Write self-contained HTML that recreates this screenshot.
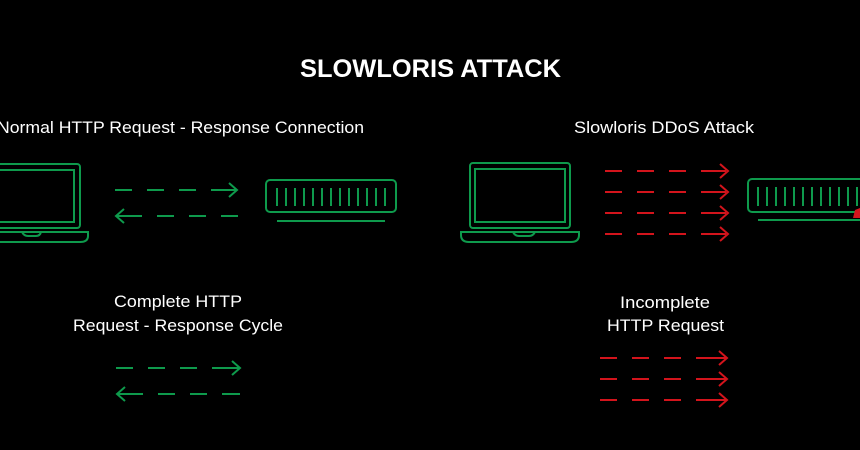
<!DOCTYPE html>
<html><head><meta charset="utf-8"><style>
html,body{margin:0;padding:0;background:#000;}
svg{display:block;}
text{font-family:"Liberation Sans",sans-serif;fill:#fff;}
</style></head><body>
<svg width="860" height="450" viewBox="0 0 860 450" xmlns="http://www.w3.org/2000/svg">
<rect width="860" height="450" fill="#000"/>
<text x="300" y="77" font-size="25" font-weight="bold" textLength="261" lengthAdjust="spacingAndGlyphs">SLOWLORIS ATTACK</text>
<text x="-3" y="133" font-size="17" textLength="367" lengthAdjust="spacingAndGlyphs">Normal HTTP Request - Response Connection</text>
<text x="574" y="133" font-size="17" textLength="180" lengthAdjust="spacingAndGlyphs">Slowloris DDoS Attack</text>
<text x="114" y="307" font-size="17" textLength="128" lengthAdjust="spacingAndGlyphs">Complete HTTP</text>
<text x="73" y="331" font-size="17" textLength="210" lengthAdjust="spacingAndGlyphs">Request - Response Cycle</text>
<text x="620" y="308" font-size="17" textLength="90" lengthAdjust="spacingAndGlyphs">Incomplete</text>
<text x="607" y="331" font-size="17" textLength="117" lengthAdjust="spacingAndGlyphs">HTTP Request</text>

<g fill="none" stroke="#0e9a4c" stroke-width="2">
  <!-- left laptop -->
  <rect x="-10" y="164" width="90" height="64" rx="3"/>
  <rect x="-6" y="170" width="80" height="52"/>
  <path d="M-10 232 H88 V236 Q88 242 80 242 H-10"/>
  <path d="M22 232 Q24 236 28 236 H36 Q40 236 41 232"/>
  <!-- right laptop -->
  <rect x="470" y="163" width="100" height="65" rx="3"/>
  <rect x="475" y="169" width="90" height="53"/>
  <path d="M461 232 H579 V235 Q579 242 571 242 H469 Q461 242 461 235 Z"/>
  <path d="M513 232 Q515 236 519 236 H529 Q533 236 535 232"/>
  <!-- left server -->
  <rect x="266" y="180" width="130" height="32" rx="4"/>
  <line x1="277" y1="221" x2="385" y2="221"/>
  <path d="M277 188V206M286 188V206M295 188V206M304 188V206M313 188V206M322 188V206M331 188V206M340 188V206M349 188V206M358 188V206M367 188V206M376 188V206M385 188V206"/>
  <!-- right server -->
  <rect x="748" y="179" width="130" height="33" rx="4"/>
  <line x1="758" y1="220" x2="860" y2="220"/>
  <path d="M758 187V206M767 187V206M776 187V206M785 187V206M794 187V206M803 187V206M812 187V206M821 187V206M830 187V206M839 187V206M848 187V206M857 187V206"/>
  <!-- green arrows top -->
  <path d="M115 190H132M147 190H164M179 190H196M211 190H236" />
  <path d="M229 183L237 190L229 197"/>
  <path d="M117 216H142M157 216H174M189 216H206M221 216H238"/>
  <path d="M124 209L116 216L124 223"/>
  <!-- green arrows bottom -->
  <path d="M116 368H133M148 368H165M180 368H197M212 368H239"/>
  <path d="M232 361L240 368L232 375"/>
  <path d="M118 394H143M158 394H175M190 394H207M222 394H240"/>
  <path d="M125 387L117 394L125 401"/>
</g>
<g fill="none" stroke="#d3141c" stroke-width="2">
  <path d="M605 171H622M637 171H654M669 171H686M701 171H726M605 192H622M637 192H654M669 192H686M701 192H726M605 213H622M637 213H654M669 213H686M701 213H726M605 234H622M637 234H654M669 234H686M701 234H726"/>
  <path d="M720 164L728 171L720 178M720 185L728 192L720 199M720 206L728 213L720 220M720 227L728 234L720 241"/>
  <path d="M600 358H617M632 358H649M664 358H681M696 358H726M600 379H617M632 379H649M664 379H681M696 379H726M600 400H617M632 400H649M664 400H681M696 400H726"/>
  <path d="M719 351L727 358L719 365M719 372L727 379L719 386M719 393L727 400L719 407"/>
</g>
<path d="M855 210L860 208V218H853Z" fill="#d3141c"/>
</svg>
</body></html>
